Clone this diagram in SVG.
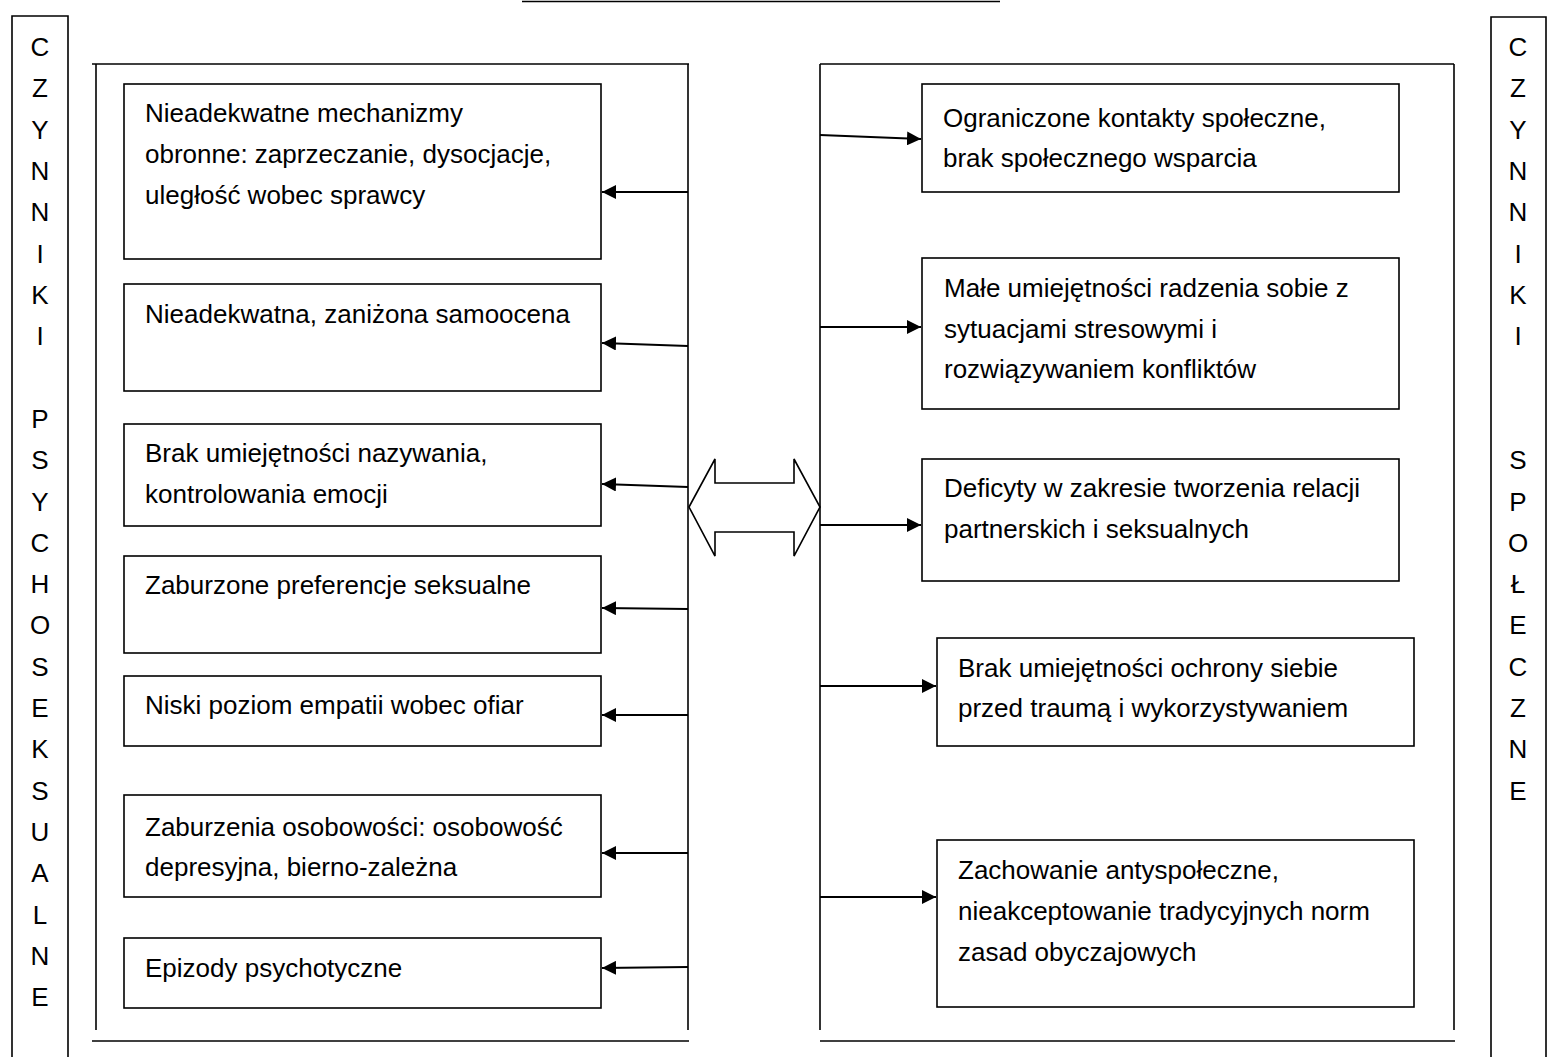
<svg xmlns="http://www.w3.org/2000/svg" width="1553" height="1057" viewBox="0 0 1553 1057">
<defs>
<marker id="ah" markerUnits="userSpaceOnUse" markerWidth="14" markerHeight="14" viewBox="0 0 14 14" refX="14" refY="7" orient="auto">
<path d="M0,0 L14,7 L0,14 Z" fill="#000"/>
</marker>
<style>
.t{font-family:"Liberation Sans",Arial,sans-serif;font-size:26px;fill:#000}
.v{font-family:"Liberation Sans",Arial,sans-serif;font-size:26px;fill:#000;text-anchor:middle}
.box{fill:#fff;stroke:#000;stroke-width:1.6}
.ln{stroke:#000;stroke-width:1.6;fill:none}
.ar{stroke:#000;stroke-width:2.2;fill:none;marker-end:url(#ah)}
</style>
</defs>
<rect width="1553" height="1057" fill="#fff"/>

<line class="ln" x1="522" y1="1.5" x2="1000" y2="1.5" stroke-width="2"/>

<g id="left-label">
<path class="ln" d="M12,1060 V16 H68 V1060"/>
<text class="v" x="40" y="56">C</text>
<text class="v" x="40" y="97">Z</text>
<text class="v" x="40" y="139">Y</text>
<text class="v" x="40" y="180">N</text>
<text class="v" x="40" y="221">N</text>
<text class="v" x="40" y="263">I</text>
<text class="v" x="40" y="304">K</text>
<text class="v" x="40" y="345">I</text>
<text class="v" x="40" y="428">P</text>
<text class="v" x="40" y="469">S</text>
<text class="v" x="40" y="511">Y</text>
<text class="v" x="40" y="552">C</text>
<text class="v" x="40" y="593">H</text>
<text class="v" x="40" y="634">O</text>
<text class="v" x="40" y="676">S</text>
<text class="v" x="40" y="717">E</text>
<text class="v" x="40" y="758">K</text>
<text class="v" x="40" y="800">S</text>
<text class="v" x="40" y="841">U</text>
<text class="v" x="40" y="882">A</text>
<text class="v" x="40" y="924">L</text>
<text class="v" x="40" y="965">N</text>
<text class="v" x="40" y="1006">E</text>
</g>

<g id="right-label">
<path class="ln" d="M1491,1060 V17 H1546 V1060"/>
<text class="v" x="1518" y="56">C</text>
<text class="v" x="1518" y="97">Z</text>
<text class="v" x="1518" y="139">Y</text>
<text class="v" x="1518" y="180">N</text>
<text class="v" x="1518" y="221">N</text>
<text class="v" x="1518" y="263">I</text>
<text class="v" x="1518" y="304">K</text>
<text class="v" x="1518" y="345">I</text>
<text class="v" x="1518" y="469">S</text>
<text class="v" x="1518" y="511">P</text>
<text class="v" x="1518" y="552">O</text>
<text class="v" x="1518" y="593">Ł</text>
<text class="v" x="1518" y="634">E</text>
<text class="v" x="1518" y="676">C</text>
<text class="v" x="1518" y="717">Z</text>
<text class="v" x="1518" y="758">N</text>
<text class="v" x="1518" y="800">E</text>
</g>

<g id="left-container">
<line class="ln" x1="92" y1="64" x2="689" y2="64"/>
<line class="ln" x1="96" y1="64" x2="96" y2="1030"/>
<line class="ln" x1="688" y1="64" x2="688" y2="1030"/>
<line class="ln" x1="92" y1="1041" x2="689" y2="1041" stroke-width="2"/>
</g>

<g id="right-container">
<line class="ln" x1="820" y1="64" x2="1454" y2="64"/>
<line class="ln" x1="820" y1="64" x2="820" y2="1030"/>
<line class="ln" x1="1454" y1="64" x2="1454" y2="1030"/>
<line class="ln" x1="820" y1="1041" x2="1455" y2="1041" stroke-width="2"/>
</g>

<g id="L1">
<rect class="box" x="124" y="84" width="477" height="175"/>
<text class="t" x="145" y="122">Nieadekwatne mechanizmy</text>
<text class="t" x="145" y="163">obronne: zaprzeczanie, dysocjacje,</text>
<text class="t" x="145" y="204">uległość wobec sprawcy</text>
</g>
<g id="L2">
<rect class="box" x="124" y="284" width="477" height="107"/>
<text class="t" x="145" y="323">Nieadekwatna, zaniżona samoocena</text>
</g>
<g id="L3">
<rect class="box" x="124" y="424" width="477" height="102"/>
<text class="t" x="145" y="462">Brak umiejętności nazywania,</text>
<text class="t" x="145" y="503">kontrolowania emocji</text>
</g>
<g id="L4">
<rect class="box" x="124" y="556" width="477" height="97"/>
<text class="t" x="145" y="594">Zaburzone preferencje seksualne</text>
</g>
<g id="L5">
<rect class="box" x="124" y="676" width="477" height="70"/>
<text class="t" x="145" y="714">Niski poziom empatii wobec ofiar</text>
</g>
<g id="L6">
<rect class="box" x="124" y="795" width="477" height="102"/>
<text class="t" x="145" y="836">Zaburzenia osobowości: osobowość</text>
<text class="t" x="145" y="876">depresyjna, bierno-zależna</text>
</g>
<g id="L7">
<rect class="box" x="124" y="938" width="477" height="70"/>
<text class="t" x="145" y="977">Epizody psychotyczne</text>
</g>

<g id="R1">
<rect class="box" x="922" y="84" width="477" height="108"/>
<text class="t" x="943" y="127">Ograniczone kontakty społeczne,</text>
<text class="t" x="943" y="167">brak społecznego wsparcia</text>
</g>
<g id="R2">
<rect class="box" x="922" y="258" width="477" height="151"/>
<text class="t" x="944" y="297">Małe umiejętności radzenia sobie z</text>
<text class="t" x="944" y="338">sytuacjami stresowymi i</text>
<text class="t" x="944" y="378">rozwiązywaniem konfliktów</text>
</g>
<g id="R3">
<rect class="box" x="922" y="459" width="477" height="122"/>
<text class="t" x="944" y="497">Deficyty w zakresie tworzenia relacji</text>
<text class="t" x="944" y="538">partnerskich i seksualnych</text>
</g>
<g id="R4">
<rect class="box" x="937" y="638" width="477" height="108"/>
<text class="t" x="958" y="677">Brak umiejętności ochrony siebie</text>
<text class="t" x="958" y="717">przed traumą i wykorzystywaniem</text>
</g>
<g id="R5">
<rect class="box" x="937" y="840" width="477" height="167"/>
<text class="t" x="958" y="879">Zachowanie antyspołeczne,</text>
<text class="t" x="958" y="920">nieakceptowanie tradycyjnych norm</text>
<text class="t" x="958" y="961">zasad obyczajowych</text>
</g>

<g id="double-arrow">
<polygon points="689,507 715,459 715,483 794,483 794,459 820,507 794,556 794,532 715,532 715,556" fill="#fff" stroke="#000" stroke-width="1.6" stroke-linejoin="miter"/>
</g>

<g id="connectors">
<line class="ar" x1="688" y1="192" x2="602" y2="192"/>
<line class="ar" x1="688" y1="346" x2="602" y2="343"/>
<line class="ar" x1="688" y1="487" x2="602" y2="484"/>
<line class="ar" x1="688" y1="609" x2="602" y2="608"/>
<line class="ar" x1="688" y1="715" x2="602" y2="715"/>
<line class="ar" x1="688" y1="853" x2="602" y2="853"/>
<line class="ar" x1="688" y1="967" x2="602" y2="968"/>
<line class="ar" x1="820" y1="135" x2="921" y2="139"/>
<line class="ar" x1="820" y1="327" x2="921" y2="327"/>
<line class="ar" x1="820" y1="525" x2="921" y2="525"/>
<line class="ar" x1="820" y1="686" x2="936" y2="686"/>
<line class="ar" x1="820" y1="897" x2="936" y2="897"/>
</g>
</svg>
